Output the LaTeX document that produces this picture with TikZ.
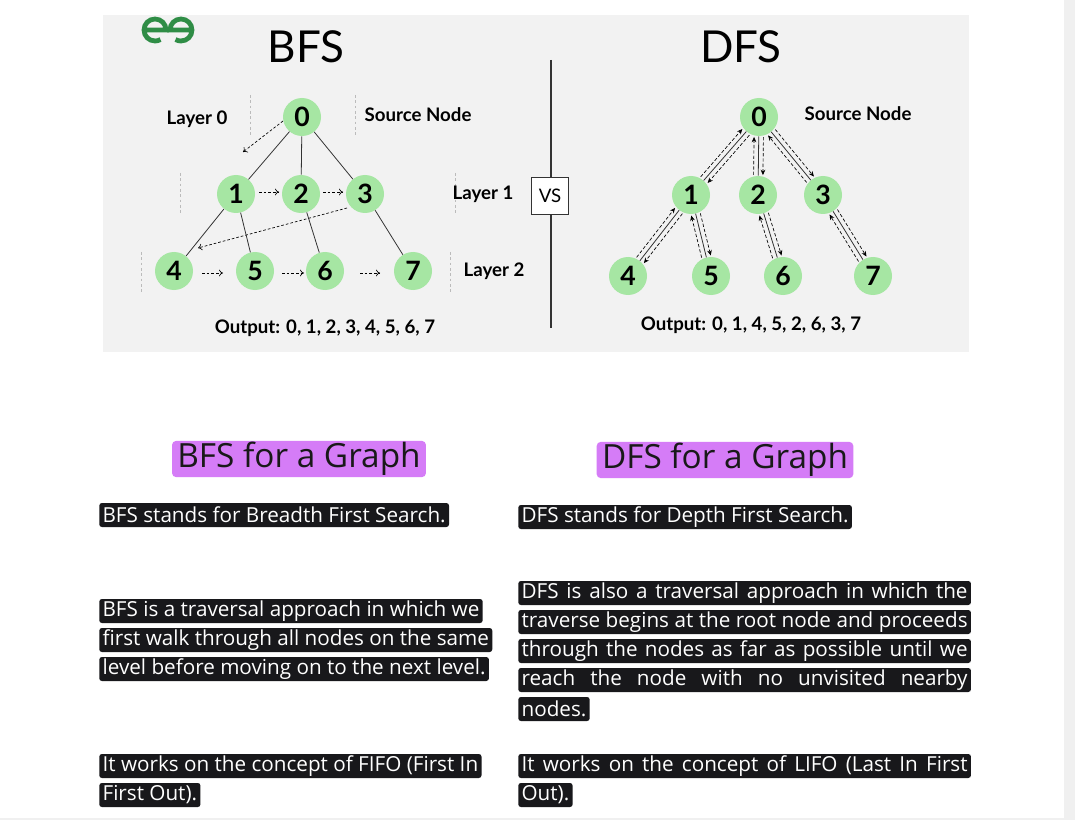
\documentclass[tikz,border=0pt]{standalone}
\usepackage{fontspec}
\setmainfont{Lato}
\newfontfamily\bodyfont{Open Sans}
\usetikzlibrary{calc,arrows.meta}
\definecolor{panel}{HTML}{F2F2F2}
\definecolor{ngreen}{HTML}{A6E6A3}
\definecolor{gfg}{HTML}{2F8D46}
\definecolor{purp}{HTML}{D57CF7}
\definecolor{boxblk}{HTML}{18181B}
\definecolor{guide}{HTML}{BBBBBB}
\tikzset{
 gn/.style={circle,fill=ngreen,minimum size=28.5pt,inner sep=0pt,font=\fontsize{20}{20}\selectfont\bfseries},
 lbl/.style={font=\fontsize{14}{14}\selectfont\bfseries},
 edge/.style={draw=black!80,line width=0.6pt},
 bdash/.style={dashed,dash pattern=on 2pt off 1.5pt,line width=0.5pt,-{To[length=3pt,width=5pt]}},
 ddash/.style={dashed,dash pattern=on 2.5pt off 1.5pt,line width=0.5pt,-{Stealth[length=4pt,width=3.5pt]}},
 guideline/.style={draw=guide,dashed,dash pattern=on 2pt off 2pt,line width=0.4pt},
 hdr/.style={fill=purp,rounded corners=3pt,inner xsep=4pt,inner ysep=1pt,font=\bodyfont\fontsize{25}{27}\selectfont,text=black!90},
 ln/.style={fill=boxblk,rounded corners=2pt,text=white,anchor=west,inner xsep=2.5pt,inner ysep=0pt,minimum height=18pt,font=\bodyfont\fontsize{15.5}{17}\selectfont}
}
\newcommand\dfsedge[2]{%
 \draw[edge] (#1)--(#2);
 \draw[ddash] ($(#1)!15pt!(#2)!3.5pt!90:(#2)$) -- ($(#2)!15pt!(#1)!3.5pt!-90:(#1)$);
 \draw[ddash] ($(#2)!15pt!(#1)!3.5pt!90:(#1)$) -- ($(#1)!15pt!(#2)!3.5pt!-90:(#2)$);}
\begin{document}
\begin{tikzpicture}[x=0.75pt,y=-0.75pt]
\useasboundingbox (0,0) rectangle (1075,820);
\fill[white] (0,0) rectangle (1075,820);
\fill[black!6] (1064,0) rectangle (1075,820);
\fill[black!6] (0,818) rectangle (1075,820);
\fill[panel] (103,15) rectangle (969,352);
% logo
\begin{scope}[gfg,line width=3.6pt]
 \draw (144,30) -- (166,30) arc[start angle=0,end angle=-300,radius=11];
 \draw (192,30) -- (170,30) arc[start angle=180,end angle=480,radius=11];
\end{scope}
\node[font=\fontsize{33}{33}\selectfont] (tb) at (306,47) {BFS};
\node[font=\fontsize{33}{33}\selectfont] (td) at (741,47) {DFS};
% VS
\draw[line width=0.8pt,black!80] (551,60) -- (551,328);
\node[draw=black!80,fill=white,minimum size=28pt,inner sep=0pt,font=\fontsize{14}{14}\selectfont] (vs) at (550,196) {VS};
% BFS nodes
\node[gn] (b0) at (302,117) {0};
\node[gn] (b1) at (236,194) {1};
\node[gn] (b2) at (301,194) {2};
\node[gn] (b3) at (365,194) {3};
\node[gn] (b4) at (174,271) {4};
\node[gn] (b5) at (255,271) {5};
\node[gn] (b6) at (325,271) {6};
\node[gn] (b7) at (413,271) {7};
\foreach \a/\b in {b0/b1,b0/b2,b0/b3,b1/b4,b1/b5,b2/b6,b3/b7} \draw[edge] (\a)--(\b);
\draw[guideline] (250,95)--(250,137) (355,95)--(355,137);
\draw[guideline] (180,173)--(180,215) (455,173)--(455,215);
\draw[guideline] (141,252)--(141,293) (450,252)--(450,293);
\node[lbl] (l0) at (197,119) {Layer 0};
\node[lbl] (s0) at (418,115) {Source Node};
\node[lbl] (l1) at (483,194) {Layer 1};
\node[lbl] (l2) at (494,271) {Layer 2};
\node[lbl] (ob) at (325,328) {Output: 0, 1, 2, 3, 4, 5, 6, 7};
\coordinate (p1) at (283,121); \coordinate (p2) at (243,152);
\draw[bdash] (p1) -- (p2);
\coordinate (p3) at (347,208); \coordinate (p4) at (198,248);
\draw[bdash] (p3) -- (p4);
\draw[bdash] ($(b1)+(23,-2)$) -- ($(b2)+(-22,-2)$);
\draw[bdash] ($(b2)+(22,-2)$) -- ($(b3)+(-22,-2)$);
\draw[bdash] ($(b4)+(28,2)$) -- ($(b5)+(-32,2)$);
\draw[bdash] ($(b5)+(27,2)$) -- ($(b6)+(-21,2)$);
\draw[bdash] ($(b6)+(35,2)$) -- ($(b7)+(-33,2)$);
% DFS nodes
\node[gn] (d0) at (759,117) {0};
\node[gn] (d1) at (691,195) {1};
\node[gn] (d2) at (758,195) {2};
\node[gn] (d3) at (823,195) {3};
\node[gn] (d4) at (628,276) {4};
\node[gn] (d5) at (711,276) {5};
\node[gn] (d6) at (783,276) {6};
\node[gn] (d7) at (873,276) {7};
\dfsedge{d0}{d1}\dfsedge{d0}{d2}\dfsedge{d0}{d3}
\dfsedge{d1}{d4}\dfsedge{d1}{d5}\dfsedge{d2}{d6}\dfsedge{d3}{d7}
\node[lbl] (s1) at (858,114) {Source Node};
\node[lbl] (od) at (751,325) {Output: 0, 1, 4, 5, 2, 6, 3, 7};
% text
\node[hdr] (h1) at (299,459) {BFS for a Graph};
\node[hdr] (h2) at (725,460) {DFS for a Graph};
\node[ln] (a1) at (99,515) {BFS stands for Breadth First Search.};
\node[ln] (a2) at (99,611) {BFS is a traversal approach in which we};
\node[ln] (a3) at (99,640) {first walk through all nodes on the same};
\node[ln] (a4) at (99,669) {level before moving on to the next level.};
\node[ln] (a5) at (99,766) {It works on the concept of FIFO (First In};
\node[ln] (a6) at (99,795) {First Out).};
\node[ln] (c1) at (518,517) {DFS stands for Depth First Search.};
\node[ln] (c2) at (518,593) {\makebox[334.5pt][s]{DFS is also a traversal approach in which the}};
\node[ln] (c3) at (518,622) {\makebox[334.5pt][s]{traverse begins at the root node and proceeds}};
\node[ln] (c4) at (518,651) {\makebox[334.5pt][s]{through the nodes as far as possible until we}};
\node[ln] (c5) at (518,680) {\makebox[334.5pt][s]{reach the node with no unvisited nearby}};
\node[ln] (c6) at (518,709) {nodes.};
\node[ln] (c7) at (518,766) {\makebox[334.5pt][s]{It works on the concept of LIFO (Last In First}};
\node[ln] (c8) at (518,795) {Out).};
\end{tikzpicture}
\end{document}
